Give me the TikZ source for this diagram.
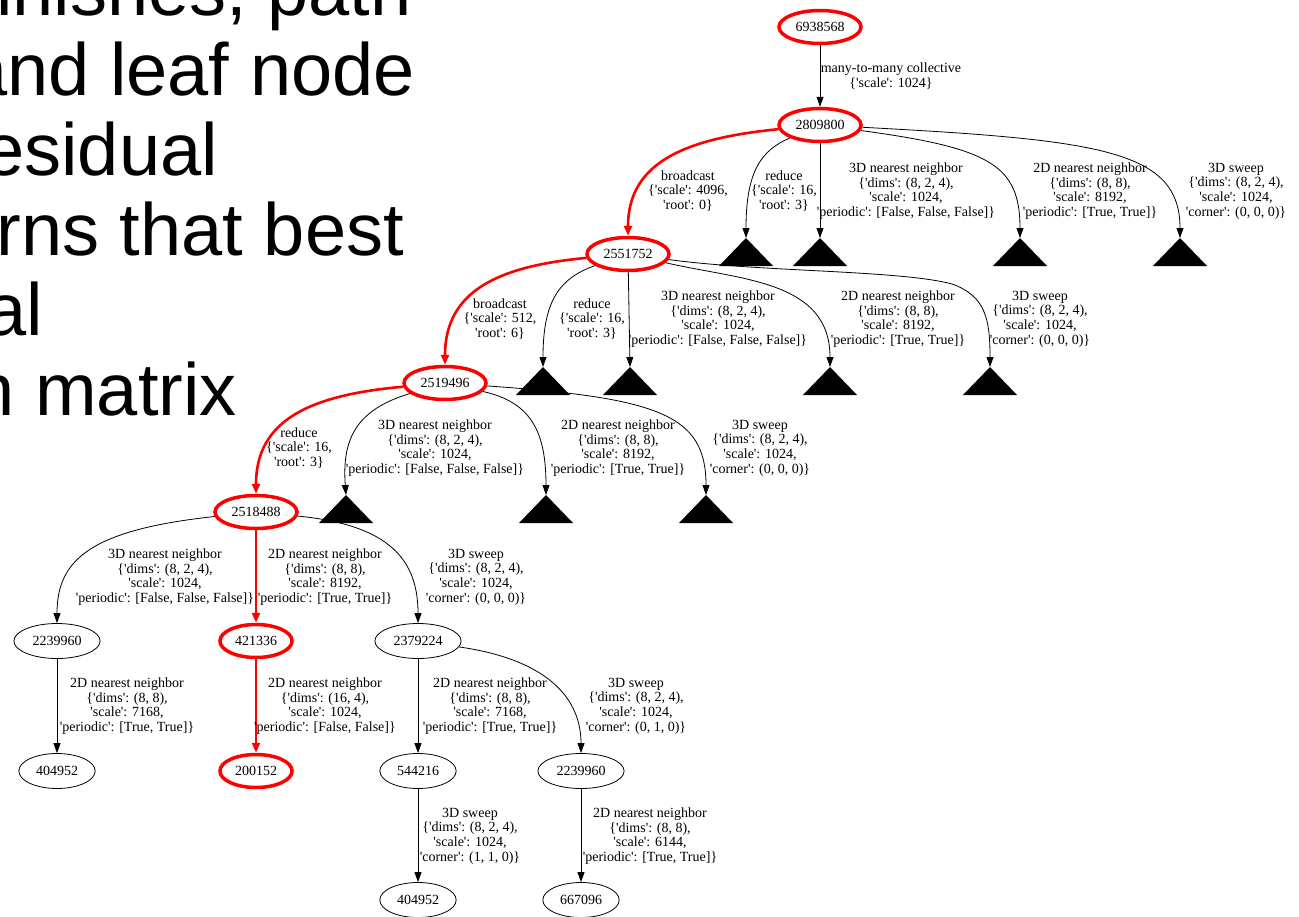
\documentclass[tikz,border=0pt]{standalone}
\usepackage{fontspec}
\setmainfont{Liberation Serif}
\newfontfamily\slidefont{Liberation Sans}
\usetikzlibrary{shapes.geometric,arrows.meta}

\newcommand\labfont{\fontsize{14}{14.6}\selectfont}
\newcommand\sq{\textquotesingle}

\tikzset{
  num/.style={ellipse, draw, line width=0.8pt, inner xsep=6pt, inner ysep=4pt, minimum height=35pt, font=\labfont},
  hot/.style={num, draw=red, line width=3.5pt, inner xsep=4.5pt, minimum height=33pt},
  lab/.style={align=center, font=\labfont, inner sep=0pt},
  edge/.style={line width=0.8pt, -{Triangle[length=10pt,width=7pt]}},
  hotedge/.style={draw=red, line width=2.6pt, -{Triangle[length=10pt,width=8pt]}},
  big/.style={font=\slidefont\fontsize{74}{80}\selectfont, anchor=base east, inner sep=0pt}
}

\begin{document}
\begin{tikzpicture}[x=1pt,y=-1pt]
\useasboundingbox (0,0) rectangle (1299,916);
\clip (0,0) rectangle (1299,916);

% slide text, cut at the left edge
\node[big] (s1) at (412,15) {inishes, path};
\node[big] (s2) at (415,95) {and leaf node};
\node[big] (s3) at (218,175) {esidual};
\node[big] (s4) at (404,255) {rns that best};
\node[big] (s5) at (43,335) {al};
\node[big] (s6) at (237,415) {n matrix};

% tree nodes
\node[hot] (n6938568) at (820,27) {6938568};
\node[hot] (n2809800) at (820,125) {2809800};
\node[hot] (n2551752) at (628,254) {2551752};
\node[hot] (n2519496) at (445,383) {2519496};
\node[hot] (n2518488) at (256,512) {2518488};
\node[num] (n2239960a) at (57,641) {2239960};
\node[hot] (n421336) at (256,641) {421336};
\node[num] (n2379224) at (418,641) {2379224};
\node[num] (n404952a) at (57,771) {404952};
\node[hot] (n200152) at (256,771) {200152};
\node[num] (n544216) at (418,771) {544216};
\node[num] (n2239960b) at (581,771) {2239960};
\node[num] (n404952b) at (418,900) {404952};
\node[num] (n667096) at (581,900) {667096};

% leaves that were cut off
\foreach \t/\x/\y in {t1/746/238, t2/820/238, t3/1020/238, t4/1180/238,
                      t5/543/367, t6/630/367, t7/830/367, t8/990/367,
                      t9/346/495, t10/546/495, t11/706/495} {
  \coordinate (\t) at (\x,\y);
  \fill (\t) -- ++(27,28) -- ++(-54,0) -- cycle;
}

% edges
\draw[edge] (n6938568) -- (n2809800);
\draw[hotedge] (n2809800) .. controls (690,138) and (628,160) .. (n2551752);
\draw[edge] (n2809800) .. controls (762,150) and (746,170) .. (t1);
\draw[edge] (n2809800) -- (t2);
\draw[edge] (n2809800) .. controls (990,148) and (1020,165) .. (t3);
\draw[edge] (n2809800) .. controls (1100,140) and (1180,150) .. (t4);

\draw[hotedge] (n2551752) .. controls (500,266) and (445,290) .. (n2519496);
\draw[edge] (n2551752) .. controls (560,278) and (543,300) .. (t5);
\draw[edge] (n2551752) -- (t6);
\draw[edge] (n2551752) .. controls (740,280) and (830,280) .. (t7);
\draw[edge] (n2551752) .. controls (760,272) and (900,270) .. (952,284)
                       .. controls (986,296) and (990,320) .. (t8);

\draw[hotedge] (n2519496) .. controls (310,395) and (256,420) .. (n2518488);
\draw[edge] (n2519496) .. controls (355,410) and (342,440) .. (t9);
\draw[edge] (n2519496) .. controls (530,402) and (546,430) .. (t10);
\draw[edge] (n2519496) .. controls (660,398) and (706,415) .. (t11);

\draw[edge] (n2518488) .. controls (90,530) and (57,560) .. (n2239960a);
\draw[hotedge] (n2518488) -- (n421336);
\draw[edge] (n2518488) .. controls (390,525) and (418,560) .. (n2379224);

\draw[edge] (n2239960a) -- (n404952a);
\draw[hotedge] (n421336) -- (n200152);
\draw[edge] (n2379224) -- (n544216);
\draw[edge] (n2379224) .. controls (550,660) and (581,700) .. (n2239960b);
\draw[edge] (n544216) -- (n404952b);
\draw[edge] (n2239960b) -- (n667096);

% edge labels
\node[lab] (l1) at (891,76) {many-to-many collective\\\{\sq scale\sq: 1024\}};

\node[lab] (l2) at (688,191) {broadcast\\\{\sq scale\sq: 4096,\\\sq root\sq: 0\}};
\node[lab] (l3) at (784,191) {reduce\\\{\sq scale\sq: 16,\\\sq root\sq: 3\}};
\node[lab] (l4) at (906,191) {3D nearest neighbor\\\{\sq dims\sq: (8, 2, 4),\\\sq scale\sq: 1024,\\\sq periodic\sq: [False, False, False]\}};
\node[lab] (l5) at (1090,191) {2D nearest neighbor\\\{\sq dims\sq: (8, 8),\\\sq scale\sq: 8192,\\\sq periodic\sq: [True, True]\}};
\node[lab] (l6) at (1236,191) {3D sweep\\\{\sq dims\sq: (8, 2, 4),\\\sq scale\sq: 1024,\\\sq corner\sq: (0, 0, 0)\}};

\node[lab] (l7) at (500,319) {broadcast\\\{\sq scale\sq: 512,\\\sq root\sq: 6\}};
\node[lab] (l8) at (592,319) {reduce\\\{\sq scale\sq: 16,\\\sq root\sq: 3\}};
\node[lab] (l9) at (718,319) {3D nearest neighbor\\\{\sq dims\sq: (8, 2, 4),\\\sq scale\sq: 1024,\\\sq periodic\sq: [False, False, False]\}};
\node[lab] (l10) at (898,319) {2D nearest neighbor\\\{\sq dims\sq: (8, 8),\\\sq scale\sq: 8192,\\\sq periodic\sq: [True, True]\}};
\node[lab] (l11) at (1040,319) {3D sweep\\\{\sq dims\sq: (8, 2, 4),\\\sq scale\sq: 1024,\\\sq corner\sq: (0, 0, 0)\}};

\node[lab] (l12) at (299,448) {reduce\\\{\sq scale\sq: 16,\\\sq root\sq: 3\}};
\node[lab] (l13) at (435,448) {3D nearest neighbor\\\{\sq dims\sq: (8, 2, 4),\\\sq scale\sq: 1024,\\\sq periodic\sq: [False, False, False]\}};
\node[lab] (l14) at (618,448) {2D nearest neighbor\\\{\sq dims\sq: (8, 8),\\\sq scale\sq: 8192,\\\sq periodic\sq: [True, True]\}};
\node[lab] (l15) at (760,448) {3D sweep\\\{\sq dims\sq: (8, 2, 4),\\\sq scale\sq: 1024,\\\sq corner\sq: (0, 0, 0)\}};

\node[lab] (l16) at (165,577) {3D nearest neighbor\\\{\sq dims\sq: (8, 2, 4),\\\sq scale\sq: 1024,\\\sq periodic\sq: [False, False, False]\}};
\node[lab] (l17) at (325,577) {2D nearest neighbor\\\{\sq dims\sq: (8, 8),\\\sq scale\sq: 8192,\\\sq periodic\sq: [True, True]\}};
\node[lab] (l18) at (476,577) {3D sweep\\\{\sq dims\sq: (8, 2, 4),\\\sq scale\sq: 1024,\\\sq corner\sq: (0, 0, 0)\}};

\node[lab] (l19) at (127,706) {2D nearest neighbor\\\{\sq dims\sq: (8, 8),\\\sq scale\sq: 7168,\\\sq periodic\sq: [True, True]\}};
\node[lab] (l20) at (325,706) {2D nearest neighbor\\\{\sq dims\sq: (16, 4),\\\sq scale\sq: 1024,\\\sq periodic\sq: [False, False]\}};
\node[lab] (l21) at (490,706) {2D nearest neighbor\\\{\sq dims\sq: (8, 8),\\\sq scale\sq: 7168,\\\sq periodic\sq: [True, True]\}};
\node[lab] (l22) at (636,706) {3D sweep\\\{\sq dims\sq: (8, 2, 4),\\\sq scale\sq: 1024,\\\sq corner\sq: (0, 1, 0)\}};

\node[lab] (l23) at (470,836) {3D sweep\\\{\sq dims\sq: (8, 2, 4),\\\sq scale\sq: 1024,\\\sq corner\sq: (1, 1, 0)\}};
\node[lab] (l24) at (650,836) {2D nearest neighbor\\\{\sq dims\sq: (8, 8),\\\sq scale\sq: 6144,\\\sq periodic\sq: [True, True]\}};
\end{tikzpicture}
\end{document}
